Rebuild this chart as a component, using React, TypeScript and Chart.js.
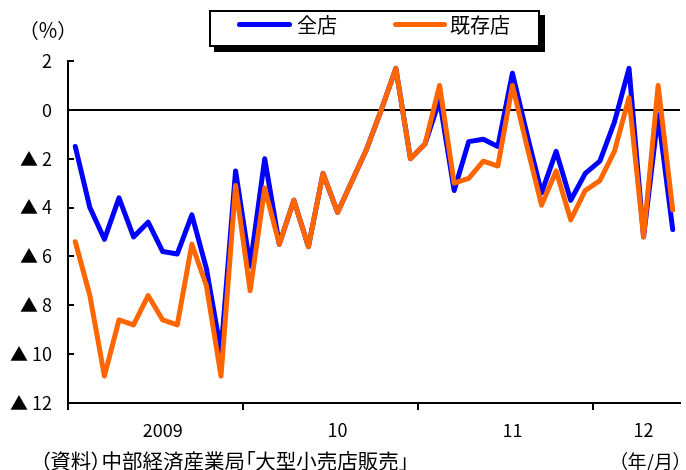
import React, { useEffect, useRef } from "react";
import { Chart, registerables } from "chart.js";

Chart.register(...registerables);

const months = [
  "2009/1", "2009/2", "2009/3", "2009/4", "2009/5", "2009/6", "2009/7", "2009/8", "2009/9", "2009/10", "2009/11", "2009/12",
  "2010/1", "2010/2", "2010/3", "2010/4", "2010/5", "2010/6", "2010/7", "2010/8", "2010/9", "2010/10", "2010/11", "2010/12",
  "2011/1", "2011/2", "2011/3", "2011/4", "2011/5", "2011/6", "2011/7", "2011/8", "2011/9", "2011/10", "2011/11", "2011/12",
  "2012/1", "2012/2", "2012/3", "2012/4", "2012/5", "2012/6",
];

const allStores = [
  -1.5, -4.0, -5.3, -3.6, -5.2, -4.6, -5.8, -5.9, -4.3, -6.5, -9.9, -2.5,
  -6.4, -2.0, -5.5, -3.7, -5.6, -2.6, -4.2, -2.9, -1.6, 0.0, 1.7, -2.0,
  -1.4, 0.4, -3.3, -1.3, -1.2, -1.5, 1.5, -1.0, -3.4, -1.7, -3.7, -2.6,
  -2.1, -0.5, 1.7, -5.2, -0.2, -4.9,
];

const existingStores = [
  -5.4, -7.6, -10.9, -8.6, -8.8, -7.6, -8.6, -8.8, -5.5, -7.2, -10.9, -3.1,
  -7.4, -3.2, -5.5, -3.7, -5.6, -2.6, -4.2, -2.9, -1.6, 0.0, 1.7, -2.0,
  -1.4, 1.0, -3.0, -2.8, -2.1, -2.3, 1.0, -1.5, -3.9, -2.5, -4.5, -3.3,
  -2.9, -1.7, 0.5, -5.2, 1.0, -4.1,
];

const seriesNames = ["全店", "既存店"];
const seriesColors = ["#0000ff", "#ff6600"];

const yearLabels = ["2009", "10", "11", "12"];
const yearLabelIndex = [6, 18, 30, 39];

const yMin = -12;
const yMax = 2;
const yStep = 2;

const FONT = "'Noto Sans CJK JP', 'Noto Sans', sans-serif";

const inwardTicks = {
  id: "inwardTicks",
  beforeDatasetsDraw(chart: any) {
    const y = chart.scales.y;
    const ctx = chart.ctx;
    const x0 = chart.chartArea.left;
    ctx.save();
    ctx.strokeStyle = "#000";
    ctx.lineWidth = 2;
    y.ticks.forEach((t: any) => {
      const py = Math.round(y.getPixelForValue(t.value));
      ctx.beginPath();
      ctx.moveTo(x0, py);
      ctx.lineTo(x0 + 6, py);
      ctx.stroke();
    });
    ctx.restore();
  },
};

export default function App() {
  const canvasRef = useRef<HTMLCanvasElement | null>(null);

  useEffect(() => {
    if (!canvasRef.current) return;
    const lineStyle = {
      borderWidth: 5,
      pointRadius: 0,
      tension: 0,
      borderJoinStyle: "round" as const,
      borderCapStyle: "round" as const,
    };
    const chart = new Chart(canvasRef.current, {
      type: "line",
      data: {
        labels: months,
        datasets: [
          {
            label: seriesNames[0],
            data: allStores,
            borderColor: seriesColors[0],
            backgroundColor: seriesColors[0],
            order: 2,
            ...lineStyle,
          },
          {
            label: seriesNames[1],
            data: existingStores,
            borderColor: seriesColors[1],
            backgroundColor: seriesColors[1],
            order: 1,
            ...lineStyle,
          },
        ],
      },
      options: {
        responsive: false,
        animation: false,
        layout: { padding: { top: 61, right: 6, left: 0, bottom: 0 } },
        plugins: {
          legend: { display: false },
          tooltip: { enabled: false },
          title: { display: false },
        },
        scales: {
          x: {
            type: "category",
            offset: true,
            afterFit: (s: any) => {
              s.height = 67;
            },
            grid: {
              offset: true,
              drawOnChartArea: false,
              drawTicks: true,
              tickLength: 7,
              lineWidth: 2,
              color: (c: any) => (c.index % 12 === 0 ? "#000" : "rgba(0,0,0,0)"),
            },
            border: { display: true, color: "#000", width: 2 },
            ticks: {
              autoSkip: false,
              maxRotation: 0,
              minRotation: 0,
              padding: 9,
              color: "#000",
              font: { family: FONT, size: 18 },
              callback: (_v: any, i: number) => {
                const k = yearLabelIndex.indexOf(i);
                return k >= 0 ? yearLabels[k] : "";
              },
            },
          },
          y: {
            min: yMin,
            max: yMax,
            afterFit: (s: any) => {
              s.width = 68;
            },
            grid: {
              drawOnChartArea: true,
              drawTicks: false,
              lineWidth: 2,
              color: (c: any) => (c.tick && c.tick.value === 0 ? "#000" : "rgba(0,0,0,0)"),
            },
            border: { display: true, color: "#000", width: 2 },
            ticks: {
              stepSize: yStep,
              padding: 16,
              color: "#000",
              font: { family: FONT, size: 18 },
              callback: (v: any) => {
                const n = Number(v);
                return n < 0 ? "▲ " + -n : String(n);
              },
            },
          },
        },
      },
      plugins: [inwardTicks],
    });
    return () => chart.destroy();
  }, []);

  const txt: React.CSSProperties = {
    position: "absolute",
    fontFamily: FONT,
    color: "#000",
    whiteSpace: "nowrap",
    lineHeight: 1,
  };
  const palt: React.CSSProperties = { fontFeatureSettings: '"palt"' };

  return (
    <div style={{ position: "absolute", left: 0, top: 0, width: 686, height: 470, background: "#fff" }}>
      <canvas ref={canvasRef} width={686} height={470} style={{ position: "absolute", left: 0, top: 0 }} />
      <div style={{ ...txt, ...palt, left: 28, top: 20, fontSize: 20 }}>（％）</div>
      <div
        style={{
          position: "absolute",
          left: 209,
          top: 10,
          width: 331,
          height: 37,
          boxSizing: "border-box",
          border: "2px solid #000",
          boxShadow: "5px 5px 0 #000",
          background: "#fff",
        }}
      />
      <div style={{ position: "absolute", left: 237, top: 22, width: 55, height: 5, borderRadius: 3, background: seriesColors[0] }} />
      <div style={{ ...txt, left: 297, top: 15, fontSize: 20 }}>{seriesNames[0]}</div>
      <div style={{ position: "absolute", left: 393, top: 22, width: 54, height: 5, borderRadius: 3, background: seriesColors[1] }} />
      <div style={{ ...txt, left: 450, top: 15, fontSize: 20 }}>{seriesNames[1]}</div>
      <div style={{ ...txt, ...palt, left: 40, top: 450, fontSize: 20.5 }}>（資料）中部経済産業局「大型小売店販売」</div>
      <div style={{ ...txt, ...palt, left: 618, top: 451, fontSize: 19 }}>（年/月）</div>
    </div>
  );
}
